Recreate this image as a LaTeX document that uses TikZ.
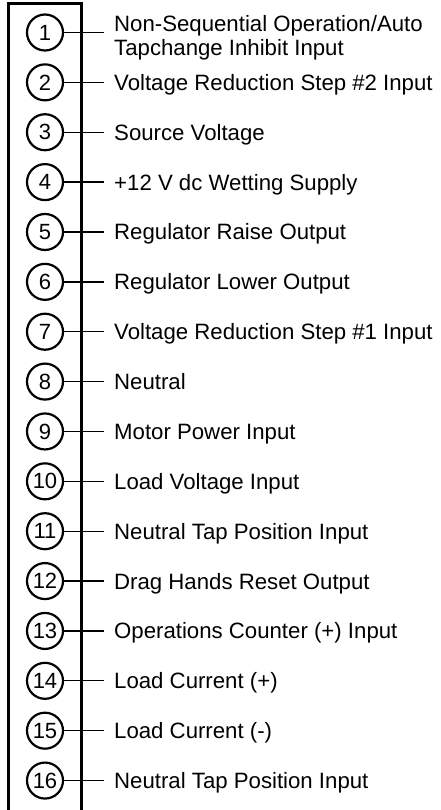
\documentclass[tikz,border=0pt]{standalone}
\usepackage{fontspec}
\setmainfont{Liberation Sans}

\tikzset{
  terminal/.style={circle, draw, line width=2.2pt, minimum size=36pt,
    inner sep=0pt, font=\fontsize{22}{24}\selectfont},
  pinlabel/.style={anchor=base west, align=left, inner xsep=10pt, inner ysep=0pt,
    font=\fontsize{22.2}{24}\selectfont},
  lead/.style={line width=1.3pt},
  frame/.style={line width=2.6pt}
}

\begin{document}
\begin{tikzpicture}[x=1pt, y=-1pt]
  \useasboundingbox (0,0) rectangle (440,810);

  % terminal block
  \draw[frame] (8.5,815) -- (8.5,3.5) -- (81.5,3.5) -- (81.5,815);

  \foreach \i/\dy/\txt in {
      1/23/{Non-Sequential Operation/Auto\\Tapchange Inhibit Input},
      2/8/{Voltage Reduction Step \#2 Input},
      3/8/{Source Voltage},
      4/8/{+12 V dc Wetting Supply},
      5/8/{Regulator Raise Output},
      6/8/{Regulator Lower Output},
      7/8/{Voltage Reduction Step \#1 Input},
      8/8/{Neutral},
      9/8/{Motor Power Input},
      10/8/{Load Voltage Input},
      11/8/{Neutral Tap Position Input},
      12/8/{Drag Hands Reset Output},
      13/8/{Operations Counter (+) Input},
      14/8/{Load Current (+)},
      15/8/{Load Current (-)},
      16/8/{Neutral Tap Position Input}} {
    \pgfmathsetmacro{\ypos}{32.5 + 49.87*(\i-1)}
    \node[terminal] (t\i) at (45,\ypos) {\i};
    \node[pinlabel] (l\i) at (104,\ypos+\dy) {\txt};
    \draw[lead] (t\i) -- (l\i.west |- t\i);
  }
\end{tikzpicture}
\end{document}
